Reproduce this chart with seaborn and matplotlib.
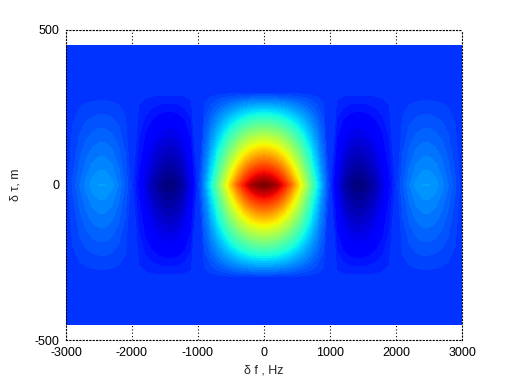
import numpy as np
import seaborn as sns
import matplotlib as mpl
mpl.use("Agg")
import matplotlib.pyplot as plt

sns.set_style("white")
plt.rcParams['font.family'] = ['Liberation Sans', 'DejaVu Sans']
plt.rcParams['axes.unicode_minus'] = False

# frequency offset axis (Hz) and the gain read along tau = 0
f_hz = [-3000, -2900, -2800, -2700, -2600, -2500, -2400, -2300, -2200, -2100,
        -2000, -1900, -1800, -1700, -1600, -1500, -1400, -1300, -1200, -1100,
        -1000, -900, -800, -700, -600, -500, -400, -300, -200, -100,
        0,
        100, 200, 300, 400, 500, 600, 700, 800, 900, 1000,
        1100, 1200, 1300, 1400, 1500, 1600, 1700, 1800, 1900, 2000,
        2100, 2200, 2300, 2400, 2500, 2600, 2700, 2800, 2900, 3000]
f_gain = [0.000, 0.034, 0.067, 0.095, 0.116, 0.127, 0.126, 0.112, 0.085, 0.047,
          0.000, -0.052, -0.104, -0.152, -0.189, -0.212, -0.216, -0.198, -0.156, -0.089,
          0.000, 0.109, 0.234, 0.368, 0.505, 0.637, 0.757, 0.858, 0.935, 0.984,
          1.000,
          0.984, 0.935, 0.858, 0.757, 0.637, 0.505, 0.368, 0.234, 0.109, 0.000,
          -0.089, -0.156, -0.198, -0.216, -0.212, -0.189, -0.152, -0.104, -0.052, 0.000,
          0.047, 0.085, 0.112, 0.126, 0.127, 0.116, 0.095, 0.067, 0.034, 0.000]

# code delay axis (m) and the triangle gain read along f = 0
tau_m = [-450, -300, 0, 300, 450]
tau_gain = [0.0, 0.0, 1.0, 0.0, 0.0]

xticks = [-3000, -2000, -1000, 0, 1000, 2000, 3000]
yticks = [-500, 0, 500]

Z = np.outer(tau_gain, f_gain)

fig = plt.figure(figsize=(5.10, 3.81), dpi=100)
ax = fig.add_axes([0.1294, 0.1076, 0.7765, 0.8137])

cmap = mpl.colormaps['jet'].resampled(64)
levels = np.linspace(Z.min(), Z.max(), 65)
ax.contourf(f_hz, tau_m, Z, levels=levels, cmap=cmap, zorder=1)

ax.set_xlim(-3000, 3000)
ax.set_ylim(-500, 500)
ax.set_xticks(xticks)
ax.set_yticks(yticks)
ax.set_axisbelow(True)
ax.grid(True, color='black', linestyle=(0, (1, 2)), linewidth=0.8)
for s in ax.spines.values():
    s.set_linestyle((0, (1, 2)))
    s.set_color('black')
    s.set_linewidth(0.8)
    s.set_zorder(3)
ax.tick_params(direction='in', length=3, width=0.6, colors='black',
               labelsize=9, pad=5)

ax.set_xlabel('δ f , Hz', fontsize=9, labelpad=4)
ax.set_ylabel('δ τ, m', fontsize=9, labelpad=9)

fig.savefig('out.png', dpi=100)
